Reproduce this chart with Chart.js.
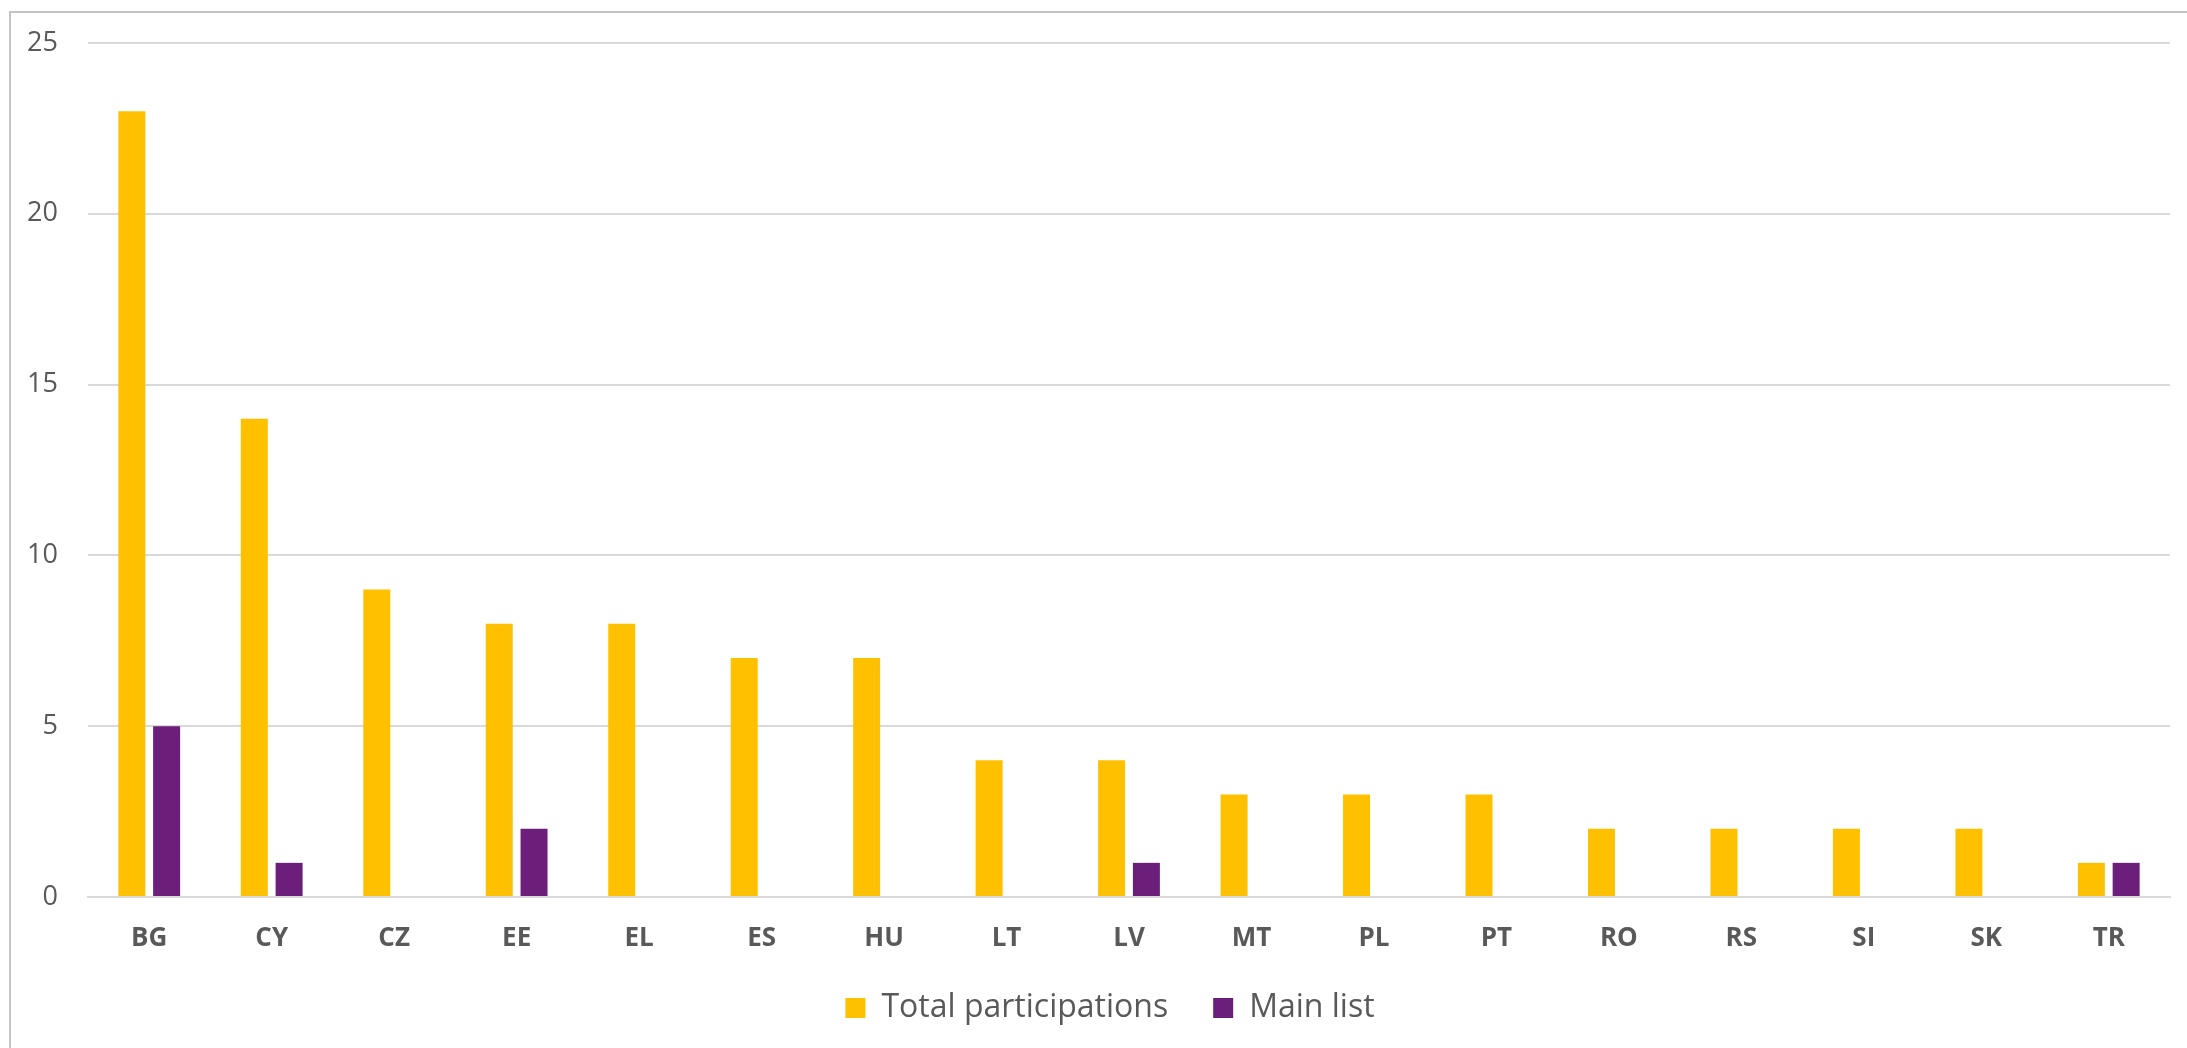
<!DOCTYPE html>
<html>
<head>
<meta charset="utf-8">
<script src="https://cdn.jsdelivr.net/npm/chart.js@4/dist/chart.umd.min.js"></script>
<style>
  html, body { margin: 0; padding: 0; background: #fff; overflow: hidden; }
  #wrap { position: absolute; left: 0; top: 0; width: 2187px; height: 1048px; }
  #frame { position: absolute; left: 9px; top: 11px; width: 2300px; height: 1100px;
           border-top: 2px solid #C4C4C4; border-left: 2px solid #C4C4C4; box-sizing: border-box; }
  canvas { position: absolute; left: 0; top: 0; }
</style>
</head>
<body>
<div id="wrap">
  <div id="frame"></div>
  <canvas id="c" width="2187" height="1048"></canvas>
</div>
<script>
const categories = ["BG","CY","CZ","EE","EL","ES","HU","LT","LV","MT","PL","PT","RO","RS","SI","SK","TR"];
const totalParticipations = [23,14,9,8,8,7,7,4,4,3,3,3,2,2,2,2,1];
const mainList = [5,1,0,2,0,0,0,0,1,0,0,0,0,0,0,0,1];
const yTicks = [0,5,10,15,20,25];
const seriesNames = ["Total participations","Main list"];

const FONT = "'Open Sans', 'Noto Sans', sans-serif";
const TEXT = "#595959";
const GRID = "#D9D9D9";
const PLOT_BOTTOM = 897;

const ctx = document.getElementById('c');
const chart = new Chart(ctx, {
  type: 'bar',
  data: {
    labels: categories,
    datasets: [
      { label: seriesNames[0], data: totalParticipations, backgroundColor: "#FFC000",
        categoryPercentage: 0.568, barPercentage: 0.776 },
      { label: seriesNames[1], data: mainList, backgroundColor: "#6C1F7A",
        categoryPercentage: 0.568, barPercentage: 0.776 }
    ]
  },
  options: {
    responsive: false,
    animation: false,
    devicePixelRatio: 1,
    layout: { padding: { left: 50, right: 17, top: 43, bottom: 14 } },
    plugins: {
      legend: {
        position: 'bottom',
        labels: {
          font: { family: FONT, size: 32 },
          color: TEXT,
          boxWidth: 20,
          boxHeight: 20,
          padding: 45
        }
      },
      tooltip: { enabled: false },
      title: { display: false }
    },
    scales: {
      x: {
        grid: { display: false, drawTicks: false },
        border: { display: true, color: GRID, width: 2 },
        ticks: { font: { family: FONT, size: 26, weight: 'bold' }, color: TEXT, padding: 26, maxRotation: 0 },
        afterFit: function(scale) {
          const chart = scale.chart;
          const legendH = chart.legend ? chart.legend.height : 0;
          scale.height = 1048 - 14 - legendH - PLOT_BOTTOM;
        }
      },
      y: {
        min: 0, max: 25,
        afterBuildTicks: function(scale) { scale.ticks = yTicks.map(v => ({ value: v })); },
        grid: { color: GRID, lineWidth: 2, drawTicks: false },
        border: { display: false },
        ticks: { font: { family: FONT, size: 27 }, color: TEXT, padding: 30 },
        afterFit: function(scale) {
          scale.width = 38;
          scale.paddingTop = 0;
          scale.paddingBottom = 0;
          scale._computeLabelArea = function() { return undefined; };
        }
      }
    }
  }
});
</script>
</body>
</html>
